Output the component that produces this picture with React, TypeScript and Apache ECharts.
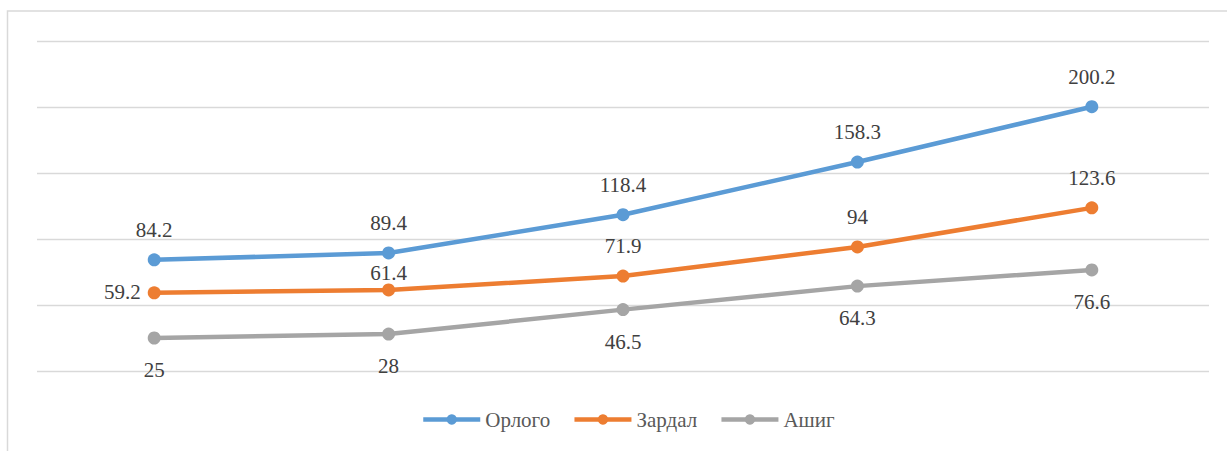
import React, { useEffect, useRef } from "react";
import * as echarts from "echarts";

const categories = ["1", "2", "3", "4", "5"];
const orlogo = [84.2, 89.4, 118.4, 158.3, 200.2];
const zardal = [59.2, 61.4, 71.9, 94, 123.6];
const ashig = [25, 28, 46.5, 64.3, 76.6];
const seriesNames = ["Орлого", "Зардал", "Ашиг"];
const colors = ["#5b9bd5", "#ed7d31", "#a5a5a5"];

const FONT = "Liberation Serif";

export default function App() {
  const ref = useRef<HTMLDivElement>(null);
  useEffect(() => {
    if (!ref.current) return;
    const chart = echarts.init(ref.current, undefined, { renderer: "svg" });
    const labelBase = {
      show: true,
      position: "inside",
      color: "#404040",
      fontSize: 21,
      fontFamily: FONT,
    };
    const mk = (name: string, data: number[], color: string, dy: number, overrides: Record<number, any> = {}) => ({
      name,
      type: "line",
      data: data.map((v, i) => (overrides[i] ? { value: v, label: overrides[i] } : v)),
      symbol: "circle",
      symbolSize: 13,
      lineStyle: { color, width: 4.5 },
      itemStyle: { color },
      label: { ...labelBase, offset: [0, dy] },
      emphasis: { disabled: true },
    });
    chart.setOption({
      animation: false,
      backgroundColor: "#ffffff",
      textStyle: { fontFamily: FONT },
      graphic: [
        {
          type: "rect",
          shape: { x: 7.5, y: 11, width: 1400, height: 600 },
          style: { fill: "none", stroke: "#d9d9d9", lineWidth: 1.5 },
          silent: true,
        },
      ],
      grid: { left: 37, right: 18, top: 41, bottom: 80, containLabel: false },
      xAxis: {
        type: "category",
        data: categories,
        boundaryGap: true,
        axisLine: { show: false },
        axisTick: { show: false },
        axisLabel: { show: false },
      },
      yAxis: {
        type: "value",
        min: 0,
        max: 250,
        interval: 50,
        axisLine: { show: false },
        axisTick: { show: false },
        axisLabel: { show: false },
        splitLine: { lineStyle: { color: "#d9d9d9", width: 1.3 } },
      },
      legend: {
        left: 421,
        top: 409,
        padding: 0,
        itemWidth: 57,
        itemHeight: 13,
        itemGap: 22,
        lineStyle: { width: 4.5 },
        textStyle: { color: "#595959", fontSize: 21, fontFamily: FONT },
        data: seriesNames,
      },
      series: [
        mk(seriesNames[0], orlogo, colors[0], -30),
        mk(seriesNames[1], zardal, colors[1], -30, {
          0: { position: "left", distance: 7, offset: [0, -1] },
          1: { offset: [0, -17] },
        }),
        mk(seriesNames[2], ashig, colors[2], 32),
      ],
    });
    return () => chart.dispose();
  }, []);
  return (
    <div
      ref={ref}
      style={{ position: "absolute", left: 0, top: 0, width: 1227, height: 451 }}
    />
  );
}
